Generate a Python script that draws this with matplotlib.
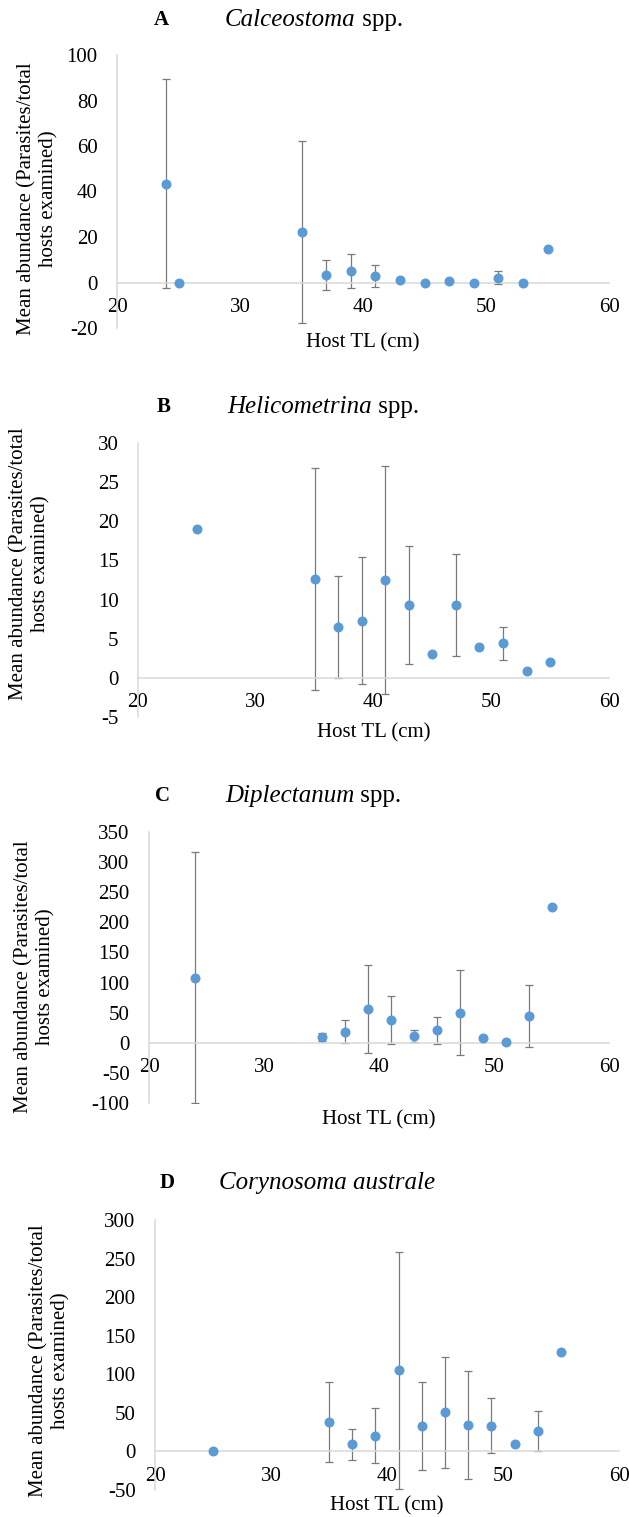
import matplotlib
matplotlib.use('Agg')
import matplotlib.pyplot as plt

W, H = 629, 1517

# Panel A - Calceostoma spp.
host_tl_a = [24, 25, 35, 37, 39, 41, 43, 45, 47, 49, 51, 53, 55]
calceostoma_mean = [43.5, 0, 22.2, 3.3, 5.0, 2.8, 0.9, 0, 0.5, 0, 2.1, 0, 14.9]
calceostoma_err = [46, 0, 40, 6.6, 7.5, 4.7, 0, 0, 0, 0, 2.8, 0, 0]

# Panel B - Helicometrina spp.
host_tl_b = [25, 35, 37, 39, 41, 43, 45, 47, 49, 51, 53, 55]
helicometrina_mean = [19.0, 12.6, 6.5, 7.3, 12.5, 9.3, 3.0, 9.3, 4.0, 4.4, 0.9, 2.0]
helicometrina_err = [0, 14.2, 6.5, 8.1, 14.6, 7.5, 0, 6.5, 0, 2.1, 0, 0]

# Panel C - Diplectanum spp.
host_tl_c = [24, 35, 37, 39, 41, 43, 45, 47, 49, 51, 53, 55]
diplectanum_mean = [108, 9.4, 18.7, 55.7, 37.5, 11.6, 20.4, 50.2, 7.7, 0.5, 44.7, 225]
diplectanum_err = [208, 7, 19, 73, 40, 10, 23, 70, 3, 0, 52, 0]

# Panel D - Corynosoma australe
host_tl_d = [25, 35, 37, 39, 41, 43, 45, 47, 49, 51, 53, 55]
corynosoma_mean = [0.5, 37.7, 9.5, 20.4, 105, 32.5, 50.7, 34.7, 33.4, 9.5, 26, 128.8]
corynosoma_err = [0, 52, 20, 36, 154, 57, 72, 70, 36, 0, 26, 0]

x_ticks = [20, 30, 40, 50, 60]

plt.rcParams['font.family'] = ['Liberation Serif', 'DejaVu Serif']
plt.rcParams['axes.unicode_minus'] = False  # Excel style hyphen minus

BLUE = '#5b9bd5'
AXIS_GRAY = '#d9d9d9'
ERR_GRAY = '#7a7a7a'

fig = plt.figure(figsize=(W / 100, H / 100), dpi=100)


def fx(px):
    return px / W


def fy(py):
    return 1 - py / H


panels = [
    # letter, genus, suffix, x, y, err, yticks, axes box px (left, right, top, bottom),
    # title y, letter x, species x, xlabel y, ylabel x, ylabel y
    ('A', 'Calceostoma', ' spp.', host_tl_a, calceostoma_mean, calceostoma_err,
     list(range(-20, 101, 20)), (117, 609, 55, 328), 20, 161, 225, 343, 38, 199),
    ('B', 'Helicometrina', ' spp.', host_tl_b, helicometrina_mean, helicometrina_err,
     list(range(-5, 31, 5)), (138, 609, 443, 717), 407, 164, 227, 733, 30, 564),
    ('C', 'Diplectanum', ' spp.', host_tl_c, diplectanum_mean, diplectanum_err,
     list(range(-100, 351, 50)), (149, 609, 832, 1103), 796, 162, 225, 1120, 35, 977),
    ('D', 'Corynosoma australe', '', host_tl_d, corynosoma_mean, corynosoma_err,
     list(range(-50, 301, 50)), (155, 619, 1220, 1490), 1183, 167, 219, 1506, 50, 1361),
]

for (letter, genus, suffix, xs, ys, errs, yticks, box, title_y, letter_x,
     species_x, xlabel_y, ylabel_x, ylabel_y) in panels:
    left, right, top, bottom = box
    ax = fig.add_axes([fx(left), fy(bottom), fx(right - left), (bottom - top) / H])

    # error bars only where there is one
    ex = [x for x, e in zip(xs, errs) if e > 0]
    ey = [y for y, e in zip(ys, errs) if e > 0]
    ee = [e for e in errs if e > 0]
    ax.errorbar(ex, ey, yerr=ee, fmt='none', ecolor=ERR_GRAY, elinewidth=0.9,
                capsize=3, capthick=0.9, zorder=2)
    ax.plot(xs, ys, 'o', color=BLUE, markersize=7.2, markeredgewidth=0, zorder=3)

    ax.set_xlim(20, 60)
    ax.set_ylim(yticks[0], yticks[-1])
    ax.set_xticks(x_ticks)
    ax.set_yticks(yticks)

    for side in ['top', 'right']:
        ax.spines[side].set_visible(False)
    ax.spines['bottom'].set_position(('data', 0))
    for side in ['bottom', 'left']:
        ax.spines[side].set_color(AXIS_GRAY)
        ax.spines[side].set_linewidth(1.1)
    ax.tick_params(axis='x', length=0, pad=11, labelsize=15)
    ax.tick_params(axis='y', length=0, pad=14, labelsize=15)
    ax.patch.set_alpha(0)

    fig.text(fx((left + right) / 2), fy(xlabel_y), 'Host TL (cm)',
             ha='center', va='center', fontsize=15)
    fig.text(fx(ylabel_x), fy(ylabel_y),
             'Mean abundance (Parasites/total\nhosts examined)',
             ha='center', va='center', rotation=90, fontsize=15,
             multialignment='center', linespacing=1.15)

    # panel letter and species name (genus in italics)
    fig.text(fx(letter_x), fy(title_y), letter, ha='center', va='center',
             fontsize=15, fontweight='bold')
    species = fig.text(fx(species_x), fy(title_y), genus, ha='left', va='center',
                       fontsize=18, fontstyle='italic')
    if suffix:
        fig.add_artist(matplotlib.text.Annotation(
            suffix, xy=(1, 0), xycoords=species, ha='left', va='bottom',
            fontsize=18, annotation_clip=False))

fig.savefig('out.png', dpi=100)
